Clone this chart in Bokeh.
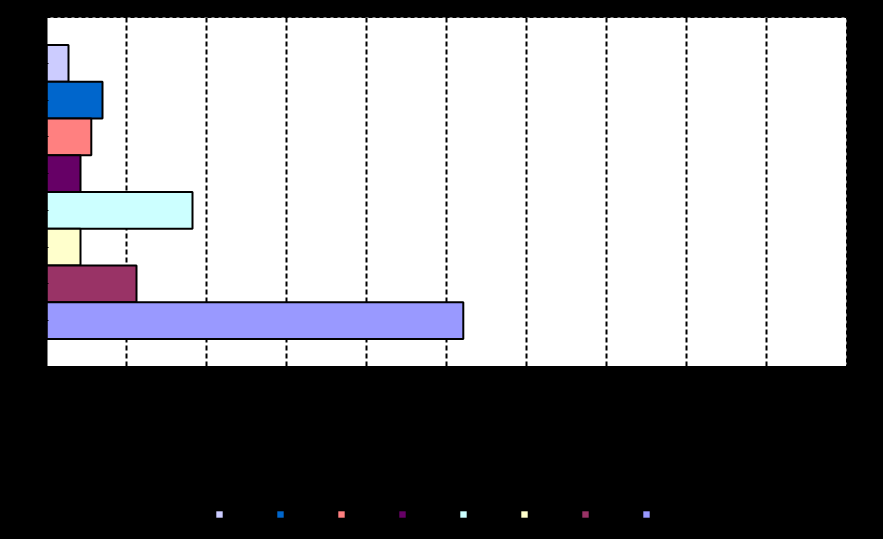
from bokeh.plotting import figure
from bokeh.layouts import column
from bokeh.models import FactorRange, Range1d, Legend, LegendItem, ColumnDataSource, FixedTicker
from bokeh.embed import file_html
from bokeh.resources import INLINE

series = ["S1", "S2", "S3", "S4", "S5", "S6", "S7", "S8"]
values = [2.75, 7.0, 5.6, 4.25, 18.25, 4.25, 11.25, 52.1]
colors = ["#CCCCFF", "#0066CC", "#FF8080", "#660066", "#CCFFFF", "#FFFFCC", "#993366", "#9999FF"]
x_ticks = [0, 10, 20, 30, 40, 50, 60, 70, 80, 90, 100]

p = figure(width=883, height=483, output_backend="svg", toolbar_location=None,
           y_range=FactorRange(factors=list(reversed(series)), range_padding=0.1875),
           x_range=Range1d(0, 100),
           min_border_left=46, min_border_right=37, min_border_top=17, min_border_bottom=117)
p.frame_align = False
p.styles = {"background-color": "black"}

p.background_fill_color = "white"
p.border_fill_color = "black"
p.outline_line_color = "black"
p.outline_line_dash = "4 3"
p.outline_line_width = 1

p.xgrid.grid_line_color = "black"
p.xgrid.grid_line_dash = "5 3"
p.xgrid.grid_line_width = 2
p.ygrid.grid_line_color = None

for s, v, c in zip(series, values, colors):
    src = ColumnDataSource(dict(y=[s], right=[v]))
    p.hbar(y="y", left=0, right="right", height=1.0, source=src,
           fill_color=c, line_color="black", line_width=2)

p.xaxis.ticker = FixedTicker(ticks=x_ticks)
p.xaxis.axis_line_color = "black"
p.xaxis.major_tick_line_color = "black"
p.xaxis.minor_tick_line_color = None
p.xaxis.major_label_text_color = "black"
p.xaxis.major_label_text_font = "Liberation Sans"
p.xaxis.major_label_text_font_size = "11px"

p.yaxis.axis_line_color = "black"
p.yaxis.axis_line_width = 2
p.yaxis.major_tick_line_color = "black"
p.yaxis.major_label_text_color = "black"
p.yaxis.major_label_text_font = "Liberation Sans"
p.yaxis.major_label_text_font_size = "10px"

# legend strip (proxy bars lie outside its visible range)
q = figure(width=883, height=56, output_backend="svg", toolbar_location=None,
           x_range=Range1d(0, 1), y_range=Range1d(0, 1),
           min_border_left=0, min_border_right=0, min_border_top=0, min_border_bottom=0)
q.frame_align = False
q.styles = {"background-color": "black"}
q.axis.visible = False
q.grid.visible = False
q.outline_line_color = None
q.background_fill_color = "black"
q.border_fill_color = "black"

items = []
for s, v, c in zip(series, values, colors):
    src = ColumnDataSource(dict(y=[-10], right=[v]))
    r = q.hbar(y="y", left=0, right="right", height=1.0, source=src,
               fill_color=c, line_color=None)
    items.append(LegendItem(label=s, renderers=[r]))

legend = Legend(items=items, orientation="horizontal", location=(215, 20),
                glyph_width=8, glyph_height=8, label_standoff=5, label_width=20,
                spacing=28, padding=0, margin=0,
                border_line_color=None, background_fill_alpha=0,
                label_text_color="black", label_text_font="Liberation Sans",
                label_text_font_size="10px")
q.add_layout(legend, "center")

layout = column(p, q, spacing=0)
layout.styles = {"background-color": "black"}

html = file_html(layout, INLINE)
html = html.replace("<body>", '<body style="background-color:black;margin:0;">', 1)
open("out.html", "w").write(html)
